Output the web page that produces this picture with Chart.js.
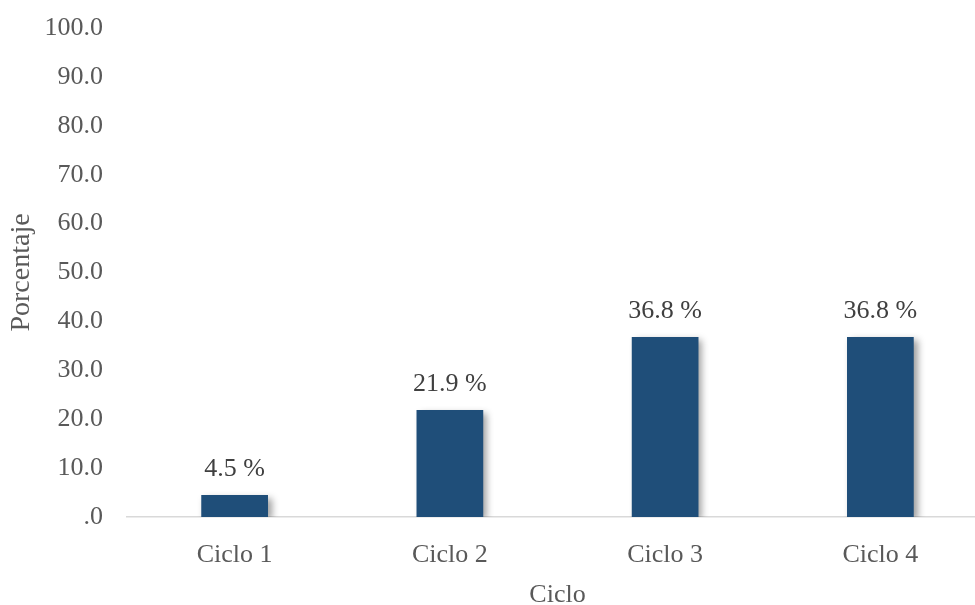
<!DOCTYPE html>
<html>
<head>
<meta charset="utf-8">
<script src="https://cdn.jsdelivr.net/npm/chart.js@4/dist/chart.umd.min.js"></script>
<style>
  html, body { margin: 0; padding: 0; background: #fff; overflow: hidden; }
  #wrap { width: 990px; height: 605px; }
</style>
</head>
<body>
<div id="wrap"><canvas id="c" width="990" height="605"></canvas></div>
<script>
const categories = ['Ciclo 1', 'Ciclo 2', 'Ciclo 3', 'Ciclo 4'];
const percentages = [4.5, 21.9, 36.8, 36.8];
const yTicks = [0, 10, 20, 30, 40, 50, 60, 70, 80, 90, 100];

const FONT = '"Liberation Serif", "Times New Roman", serif';
const GREY = '#595959';

// Soft drop shadow under the bars only
const barShadow = {
  id: 'barShadow',
  beforeDatasetDraw(chart) {
    const ctx = chart.ctx;
    ctx.save();
    ctx.shadowColor = 'rgba(0,0,0,0.38)';
    ctx.shadowBlur = 7;
    ctx.shadowOffsetX = 4;
    ctx.shadowOffsetY = 3;
  },
  afterDatasetDraw(chart) {
    chart.ctx.restore();
  }
};

// Value labels above each bar
const valueLabels = {
  id: 'valueLabels',
  afterDatasetsDraw(chart) {
    const ctx = chart.ctx;
    const meta = chart.getDatasetMeta(0);
    ctx.save();
    ctx.font = '26px ' + FONT;
    ctx.fillStyle = '#404040';
    ctx.textAlign = 'center';
    ctx.textBaseline = 'alphabetic';
    meta.data.forEach((bar, i) => {
      ctx.fillText(percentages[i].toFixed(1) + ' %', bar.x, bar.y - 19);
    });
    ctx.restore();
  }
};

new Chart(document.getElementById('c'), {
  type: 'bar',
  data: {
    labels: categories,
    datasets: [{
      data: percentages,
      backgroundColor: '#1F4E79',
      borderWidth: 0,
      barPercentage: 0.31,
      categoryPercentage: 1.0
    }]
  },
  options: {
    responsive: false,
    animation: false,
    devicePixelRatio: 1,
    layout: { padding: { top: 28, right: 2, left: 0, bottom: 0 } },
    plugins: { legend: { display: false }, tooltip: { enabled: false } },
    scales: {
      x: {
        grid: { display: false, drawTicks: false },
        border: { display: true, color: '#D9D9D9', width: 1.5 },
        ticks: { color: GREY, font: { family: FONT, size: 26 }, padding: 23 },
        title: {
          display: true, text: 'Ciclo', color: GREY,
          font: { family: FONT, size: 26 }, padding: { top: 0, bottom: -6 }
        },
        afterFit(scale) { scale.height = 88; scale.paddingLeft = 0; scale.paddingRight = 0; }
      },
      y: {
        min: 0, max: 100,
        grid: { display: false, drawTicks: false },
        border: { display: false },
        afterBuildTicks(scale) { scale.ticks = yTicks.map(v => ({ value: v })); },
        ticks: {
          color: GREY, font: { family: FONT, size: 26 }, padding: 24,
          callback: v => (v === 0 ? '.0' : Number(v).toFixed(1))
        },
        title: {
          display: true, text: 'Porcentaje', color: GREY,
          font: { family: FONT, size: 28 }, padding: { top: 5, bottom: 0 }
        },
        afterFit(scale) { scale.width = 127; scale.paddingTop = 0; scale.paddingBottom = 0; }
      }
    }
  },
  plugins: [barShadow, valueLabels]
});
</script>
</body>
</html>
